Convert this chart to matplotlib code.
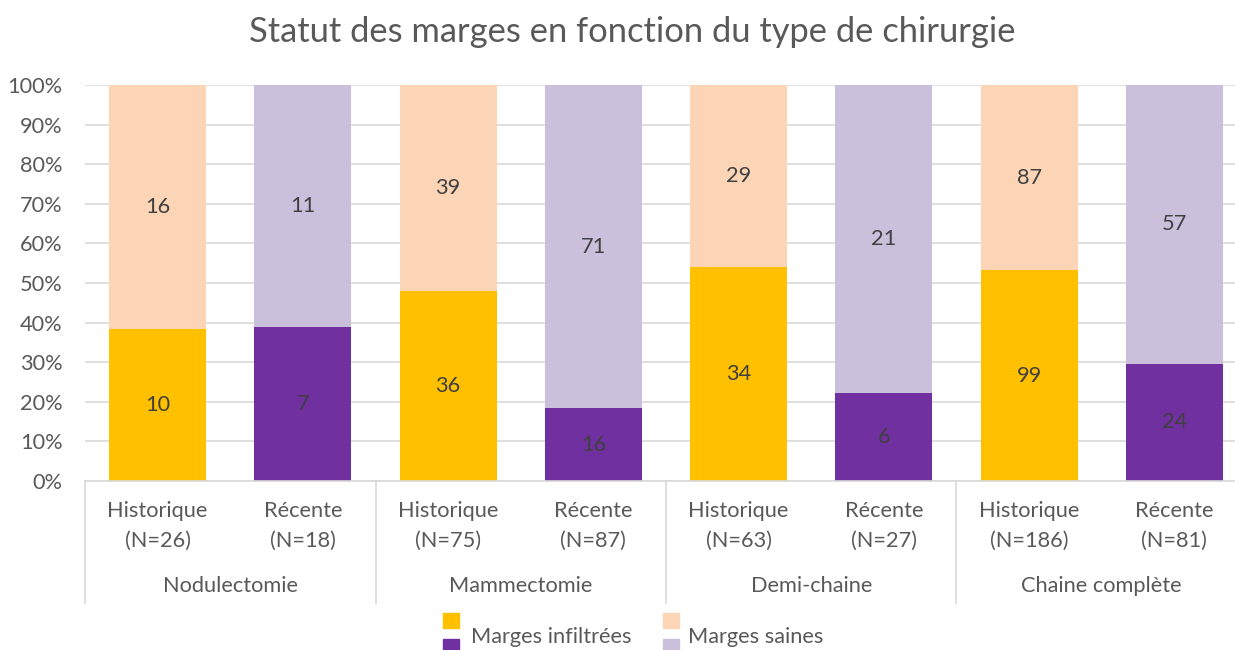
import matplotlib
matplotlib.use('Agg')
import matplotlib.pyplot as plt
from matplotlib.patches import Rectangle
from matplotlib.lines import Line2D
import numpy as np

plt.rcParams['font.family'] = ['Lato', 'DejaVu Sans']

# Data: counts per surgery type and period
groups = ['Nodulectomie', 'Mammectomie', 'Demi-chaine', 'Chaine complète']
periods = ['Historique', 'Récente']
infiltrees = [10, 7, 36, 16, 34, 6, 99, 24]
saines = [16, 11, 39, 71, 29, 21, 87, 57]
totals = [26, 18, 75, 87, 63, 27, 186, 81]

col_inf = ['#FFC000', '#7030A0']
col_sain = ['#FBD5B5', '#CBC0DC']
txt = '#595959'
fs = 15.7

inf = np.array(infiltrees, float)
sai = np.array(saines, float)
tot = inf + sai
p_inf = inf / tot * 100
p_sai = sai / tot * 100

W, H = 1235, 650
fig = plt.figure(figsize=(W / 100, H / 100), dpi=100)
# plot area runs slightly past the right edge of the canvas
ax = fig.add_axes([85 / W, 1 - 481 / H, 1162 / W, 396 / H])

x = np.arange(len(infiltrees))
c1 = [col_inf[i % 2] for i in x]
c2 = [col_sain[i % 2] for i in x]
ax.bar(x, p_inf, width=0.667, color=c1, zorder=2)
ax.bar(x, p_sai, width=0.667, bottom=p_inf, color=c2, zorder=2)

for i in x:
    ax.text(i, p_inf[i] / 2, str(infiltrees[i]), ha='center', va='center',
            fontsize=fs, color='#404040')
    ax.text(i, p_inf[i] + p_sai[i] / 2, str(saines[i]), ha='center',
            va='center', fontsize=fs, color='#404040')

ax.set_xlim(-0.5, len(x) - 0.5)
ax.set_ylim(0, 100)
ax.set_yticks(np.arange(0, 101, 10))
ax.set_yticklabels([f'{v}%' for v in range(0, 101, 10)], fontsize=fs, color=txt)
ax.yaxis.grid(True, color='#D9D9D9', linewidth=1.2, zorder=0)
ax.set_axisbelow(True)
ax.tick_params(axis='y', length=0, pad=16)
ax.set_xticks([])
for s in ['top', 'right', 'left']:
    ax.spines[s].set_visible(False)
ax.spines['bottom'].set_color('#D9D9D9')
ax.spines['bottom'].set_linewidth(1.2)

# Two-level category axis (y positions in figure pixels)
def fy(py):
    return 1 - py / H

for i in x:
    xf = ax.transData.transform((i, 0))[0] / W
    fig.text(xf, fy(511), periods[i % 2], ha='center', va='center',
             fontsize=fs, color=txt)
    fig.text(xf, fy(541), f'(N={totals[i]})', ha='center', va='center',
             fontsize=fs, color=txt)
for g, name in enumerate(groups):
    xf = ax.transData.transform((2 * g + 0.5, 0))[0] / W
    fig.text(xf, fy(586), name, ha='center', va='center', fontsize=fs,
             color=txt)
for b in np.arange(-0.5, len(x), 2):
    xf = ax.transData.transform((b, 0))[0] / W
    fig.lines.append(Line2D([xf, xf], [fy(481), fy(603)], color='#D9D9D9',
                            linewidth=1.2, transform=fig.transFigure))

fig.text(632 / W, fy(32), 'Statut des marges en fonction du type de chirurgie',
         ha='center', va='center', fontsize=24.8, color=txt)

# Legend with paired swatches
def swatch(xp, top, colors):
    for k, c in enumerate(colors):
        fig.patches.append(Rectangle((xp / W, fy(top + 15 + k * 26)),
                                     16 / W, 15 / H, color=c,
                                     transform=fig.transFigure))

swatch(443, 613, [col_inf[0], col_inf[1]])
swatch(663, 613, [col_sain[0], col_sain[1]])
fig.text(471 / W, fy(637), 'Marges infiltrées', ha='left', va='center',
         fontsize=fs, color=txt)
fig.text(688 / W, fy(637), 'Marges saines', ha='left', va='center',
         fontsize=fs, color=txt)

fig.savefig('out.png', dpi=100)
